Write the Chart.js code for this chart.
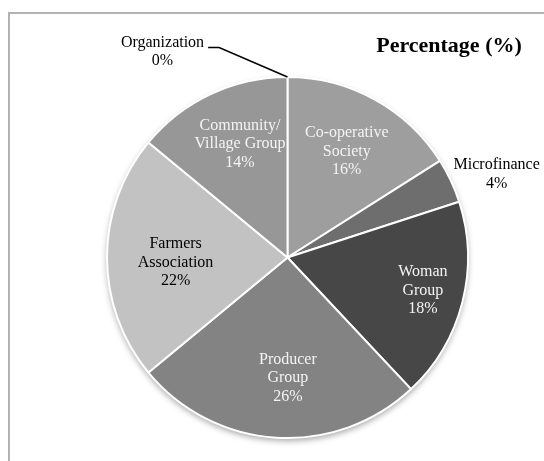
<!DOCTYPE html>
<html>
<head>
<meta charset="utf-8">
<script src="https://cdn.jsdelivr.net/npm/chart.js@4.4.1/dist/chart.umd.min.js"></script>
<style>
  html, body { margin: 0; padding: 0; background: #fff; }
  #wrap { width: 544px; height: 461px; }
</style>
</head>
<body>
<div id="wrap"><canvas id="canvas" width="544" height="461"></canvas></div>
<script>
var categories = ['Co-operative Society', 'Microfinance', 'Woman Group', 'Producer Group', 'Farmers Association', 'Community/Village Group', 'Organization'];
var percentages = [16, 4, 18, 26, 22, 14, 0];
var labelLines = [['Co-operative', 'Society'], ['Microfinance'], ['Woman', 'Group'], ['Producer', 'Group'], ['Farmers', 'Association'], ['Community/', 'Village Group'], ['Organization']];
var sliceColors = ['#9e9e9e', '#6e6e6e', '#474747', '#838383', '#c2c2c2', '#979797', '#888888'];

// where each label sits: fraction of the radius along the slice's middle angle, plus a nudge
var labelPlace = [
    {r: 0.67, dx: 1, dy: 0, color: '#f4f4f4'},
    {r: 1.25, dx: 5, dy: 13, color: '#000'},
    {r: 0.78, dx: -1, dy: -2, color: '#f4f4f4'},
    {r: 0.67, dx: 8, dy: 0, color: '#f4f4f4'},
    {r: 0.62, dx: 0, dy: 5, color: '#000'},
    {r: 0.67, dx: 4, dy: -4, color: '#f4f4f4'},
    {r: 1.14, dx: -125, dy: 0, color: '#000'}
];

var serif = '"Liberation Serif", "Times New Roman", serif';

var framePlugin = {
    id: 'frame',
    beforeDraw: function(chart) {
        var ctx = chart.ctx;
        ctx.save();
        ctx.strokeStyle = '#b2b2b2';
        ctx.lineWidth = 2;
        ctx.beginPath();
        ctx.moveTo(9, chart.height);
        ctx.lineTo(9, 13);
        ctx.lineTo(chart.width, 13);
        ctx.stroke();

        ctx.fillStyle = '#000';
        ctx.font = 'bold 22px ' + serif;
        ctx.textAlign = 'center';
        ctx.textBaseline = 'middle';
        ctx.fillText('Percentage (%)', 449, 46);
        ctx.restore();
    },
    beforeDatasetsDraw: function(chart) {
        // soft drop shadow under the whole pie
        var arc = chart.getDatasetMeta(0).data[0];
        var ctx = chart.ctx;
        ctx.save();
        ctx.shadowColor = 'rgba(0,0,0,0.35)';
        ctx.shadowBlur = 6;
        ctx.shadowOffsetY = 3;
        ctx.fillStyle = '#fff';
        ctx.beginPath();
        ctx.arc(arc.x, arc.y, arc.outerRadius, 0, Math.PI * 2);
        ctx.fill();
        ctx.restore();
    },
    afterDatasetsDraw: function(chart) {
        var ctx = chart.ctx;
        var arcs = chart.getDatasetMeta(0).data;
        ctx.save();
        ctx.font = '16px ' + serif;
        ctx.textAlign = 'center';
        ctx.textBaseline = 'middle';
        arcs.forEach(function(arc, i) {
            var p = labelPlace[i];
            var mid = (arc.startAngle + arc.endAngle) / 2;
            var rr = arc.outerRadius * p.r;
            var cx = arc.x + Math.cos(mid) * rr + p.dx;
            var cy = arc.y + Math.sin(mid) * rr + p.dy;
            var lines = labelLines[i].concat([percentages[i] + '%']);
            var lh = 18.5;
            var y0 = cy - (lines.length - 1) * lh / 2;
            ctx.fillStyle = p.color;
            lines.forEach(function(t, k) {
                ctx.fillText(t, cx, y0 + k * lh);
            });

            // leader line for the empty slice
            if (percentages[i] === 0) {
                var w = ctx.measureText(labelLines[i][0]).width;
                var sx = cx + w / 2 + 4;
                var ex = arc.x + Math.cos(arc.startAngle) * arc.outerRadius;
                var ey = arc.y + Math.sin(arc.startAngle) * arc.outerRadius;
                ctx.strokeStyle = '#000';
                ctx.lineWidth = 1.5;
                ctx.beginPath();
                ctx.moveTo(sx, y0 + 5);
                ctx.lineTo(sx + 11, y0 + 5);
                ctx.lineTo(ex, ey);
                ctx.stroke();
            }
        });
        ctx.restore();
    }
};

window.onload = function() {
    var ctx = document.getElementById('canvas').getContext('2d');
    window.myPie = new Chart(ctx, {
        type: 'pie',
        data: {
            labels: categories,
            datasets: [{
                data: percentages,
                backgroundColor: sliceColors,
                borderColor: '#ffffff',
                borderWidth: 2
            }]
        },
        options: {
            responsive: false,
            animation: false,
            layout: {
                padding: {left: 106, right: 75, top: 76, bottom: 22}
            },
            plugins: {
                legend: {display: false},
                tooltip: {enabled: false}
            }
        },
        plugins: [framePlugin]
    });
};
</script>
</body>
</html>
